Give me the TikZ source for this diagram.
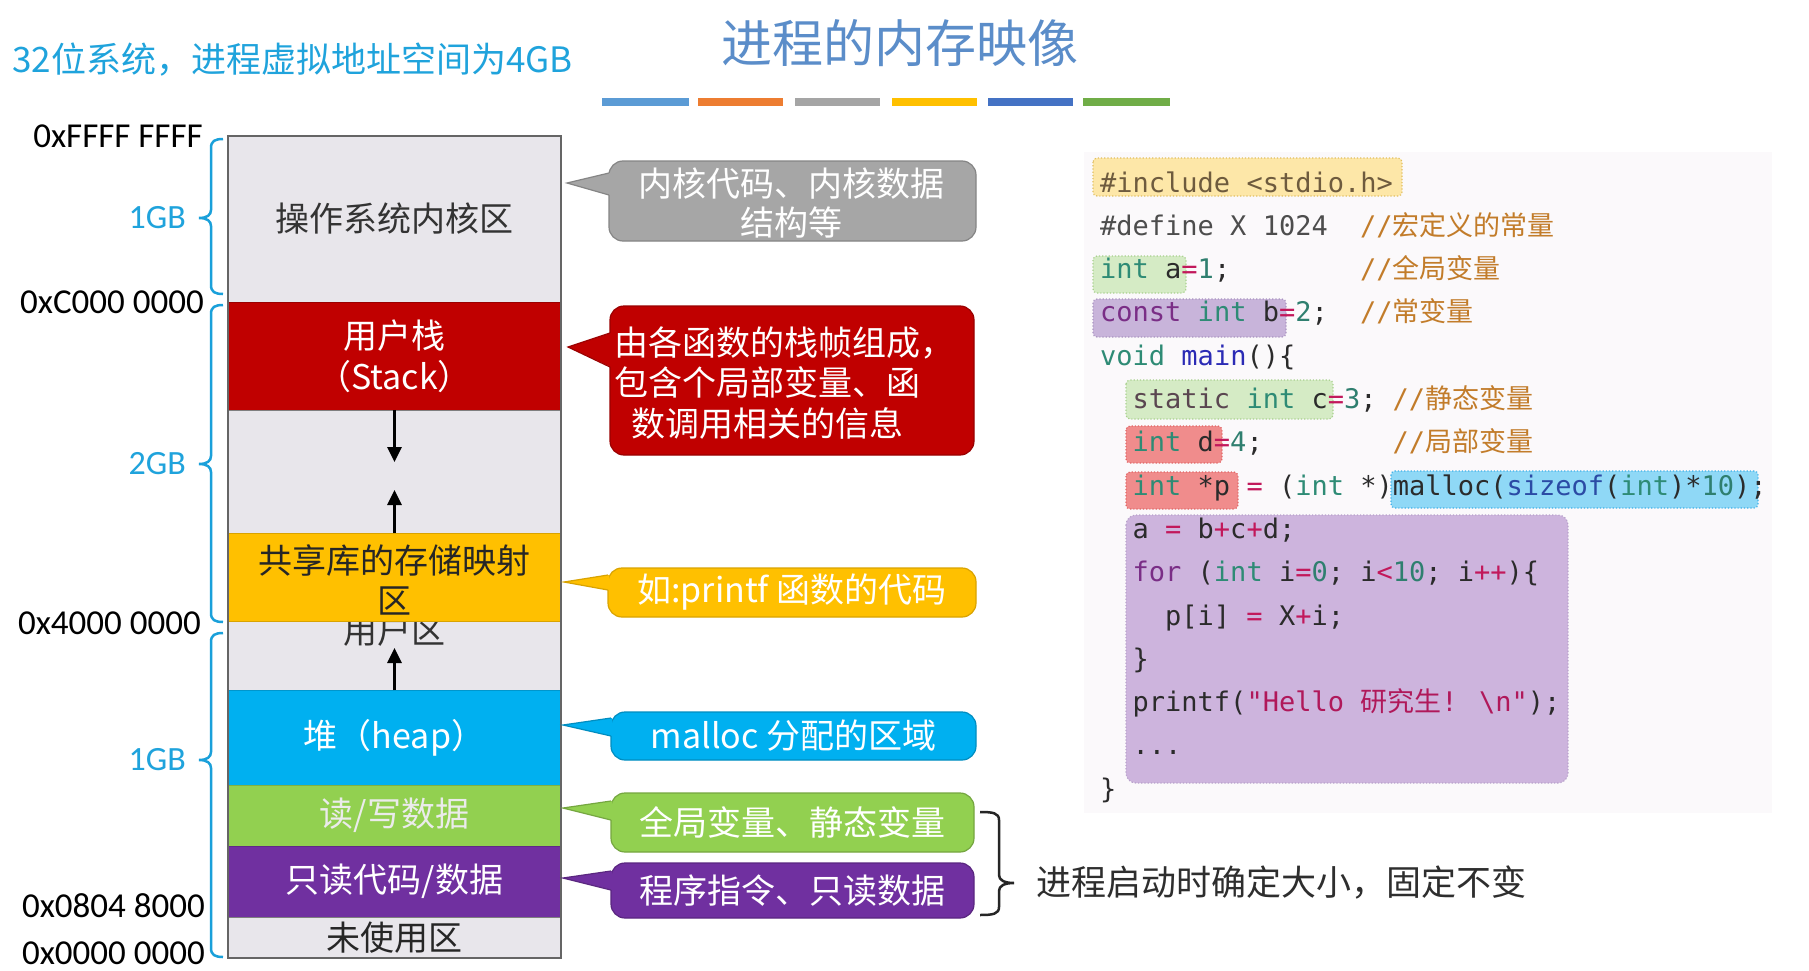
\documentclass[tikz,border=0pt]{standalone}
\usepackage{fontspec}
\setmainfont{Noto Sans CJK SC}
\newfontfamily\cjk{Noto Sans CJK SC}
\newfontfamily\mono{DejaVu Sans Mono}
\newfontfamily\calib{Carlito}
\usetikzlibrary{arrows.meta}
\newcommand\fsz[2]{\fontsize{#1}{#2}\selectfont}
% memory colours
\definecolor{memgray}{HTML}{E8E6EB}
\definecolor{memline}{HTML}{7F7F7F}
\definecolor{cRed}{HTML}{C00000}
\definecolor{cYel}{HTML}{FFC000}
\definecolor{cCyan}{HTML}{00B0F0}
\definecolor{cGreen}{HTML}{92D050}
\definecolor{cPurp}{HTML}{7030A0}
\definecolor{cGrayC}{HTML}{A6A6A6}
\definecolor{titleC}{HTML}{5B8DC9}
\definecolor{topC}{HTML}{1FA3DC}
\definecolor{braceC}{HTML}{1AA0DA}
\definecolor{barA}{HTML}{5B9BD5}
\definecolor{barB}{HTML}{ED7D31}
\definecolor{barC}{HTML}{A5A5A5}
\definecolor{barD}{HTML}{FFC000}
\definecolor{barE}{HTML}{4472C4}
\definecolor{barF}{HTML}{70AD47}
% code colours
\definecolor{codebg}{HTML}{FBF9FB}
\definecolor{hlY}{HTML}{FDE7A8}\definecolor{hlYd}{HTML}{E0BE60}
\definecolor{hlG}{HTML}{D5EBC5}\definecolor{hlGd}{HTML}{A8D08D}
\definecolor{hlP}{HTML}{C8B4DA}\definecolor{hlPd}{HTML}{A993C0}
\definecolor{hlR}{HTML}{F08C8C}\definecolor{hlRd}{HTML}{E06666}
\definecolor{hlC}{HTML}{8FD8F6}\definecolor{hlCd}{HTML}{3FB0E8}
\definecolor{blkP}{HTML}{CDB4DD}\definecolor{blkPd}{HTML}{B8A2CB}
\definecolor{cdef}{HTML}{2B2B2B}
\definecolor{ckw}{HTML}{2E8B75}
\definecolor{cpur}{HTML}{7A2E86}
\definecolor{cstat}{HTML}{5A4650}
\definecolor{cmain}{HTML}{2B2BB5}
\definecolor{csize}{HTML}{2B4BA5}
\definecolor{cop}{HTML}{C2185B}
\definecolor{cnum}{HTML}{2F7F6F}
\definecolor{cstr}{HTML}{B0185A}
\definecolor{ccom}{HTML}{C27C2A}
\definecolor{cinc}{HTML}{6E5B3E}
\definecolor{cdefn}{HTML}{4D4D4D}
\newcommand\lbr[3]{%
 \draw[cbr] (223,#1) .. controls (215,#1) and (211,{#1+2}) .. (211,{#1+9}) -- (211,{#2-8})
   .. controls (211,{#2-3}) and (207,#2) .. (199,#2)
   .. controls (207,#2) and (211,{#2+3}) .. (211,{#2+8}) -- (211,{#3-9})
   .. controls (211,{#3-2}) and (215,#3) .. (223,#3);}
\begin{document}
\begin{tikzpicture}[x=1pt,y=-1pt,
  seg/.style={inner sep=0pt,outer sep=0pt,minimum width=333pt,anchor=north west,line width=1pt,font=\fsz{34}{41},align=center},
  addr/.style={font=\calib\fsz{35}{40},text=black,anchor=east,inner sep=0pt},
  gb/.style={font=\calib\fsz{34}{40},text=topC,anchor=east,inner sep=0pt},
  cbr/.style={draw=braceC,line width=2.5pt},
  bbr/.style={draw=black!85,line width=2.5pt},
  marr/.style={line width=3pt,-{Triangle[width=14pt,length=15pt]},black},
  callout/.style={rounded corners=14pt,inner sep=0pt,outer sep=0pt,anchor=north west,line width=1.2pt,text=white,font=\fsz{34}{40},align=center},
  hl/.style={rounded corners=4pt,dotted,line width=1.2pt},
  code/.style={font=\mono\fsz{27}{27},inner sep=0pt,anchor=base west,text=cdef},
  com/.style={font=\mono\fsz{27}{27},inner sep=0pt,anchor=base west,text=ccom}]
\useasboundingbox (0,0) rectangle (1809,971);
\fill[white] (0,0) rectangle (1809,971);

% ---------- headings ----------
\node[anchor=west,inner sep=0pt,font=\fsz{35}{40},text=topC] (top) at (12,60) {32位系统，进程虚拟地址空间为4GB};
\node[inner sep=0pt,font=\fsz{51}{56},text=titleC] (title) at (900,43) {进程的内存映像};
\fill[barA] (602,98) rectangle (689,106);
\fill[barB] (698,98) rectangle (783,106);
\fill[barC] (795,98) rectangle (880,106);
\fill[barD] (892,98) rectangle (977,106);
\fill[barE] (988,98) rectangle (1073,106);
\fill[barF] (1083,98) rectangle (1170,106);

% ---------- memory column ----------
\node[seg,fill=memgray,draw=memline,minimum height=166pt,text=black!80] (kern) at (228,136) {操作系统内核区};
\node[seg,fill=cRed,draw=cRed!80!black,minimum height=108pt,text=white] (stack) at (228,302) {用户栈\\（Stack）};
\node[seg,fill=memgray,draw=memline,minimum height=123pt] (gap) at (228,410) {};
\node[seg,fill=memgray,draw=memline,minimum height=69pt] (user) at (228,621) {};
\node[inner sep=0pt,font=\fsz{34}{41},text=black!80] (usertxt) at (394.5,631) {用户区};
\node[seg,fill=cYel,draw=cYel!85!black,minimum height=88pt,text=black!85] (shlib) at (228,533) {};
\node[inner sep=0pt,font=\fsz{34}{40},align=center,text=black!85] (shtxt) at (394.5,580) {共享库的存储映射\\区};
\node[seg,fill=cCyan,draw=cCyan!85!black,minimum height=95pt,text=white] (heap) at (228,690) {堆（heap）};
\node[seg,fill=cGreen,draw=cGreen!85!black,minimum height=61pt,text=white!92!black] (rw) at (228,785) {读/写数据};
\node[seg,fill=cPurp,draw=cPurp!85!black,minimum height=71pt,text=white] (ro) at (228,846) {只读代码/数据};
\node[seg,fill=memgray,draw=memline,minimum height=41pt,text=black!85] (unused) at (228,917) {未使用区};
\draw[memline!80!black,line width=1.8pt] (kern.north west) rectangle (unused.south east);

\coordinate (ad1) at (394.5,462);
\coordinate (au1) at (394.5,490);
\coordinate (au2) at (394.5,648);
\draw[marr] (stack.south) -- (ad1);
\draw[marr] (shlib.north) -- (au1);
\draw[marr] (heap.north) -- (au2);

% ---------- addresses and braces ----------
\node[addr] (a1) at (203,136) {0xFFFF FFFF};
\node[addr] (a2) at (204,302) {0xC000 0000};
\node[addr] (a3) at (201,623) {0x4000 0000};
\node[addr] (a4) at (205,906) {0x0804 8000};
\node[addr] (a5) at (205,953) {0x0000 0000};
\lbr{139}{218}{294}
\lbr{305}{464}{622}
\lbr{633}{760}{957}
\node[gb] (g1) at (186,218) {1GB};
\node[gb] (g2) at (186,464) {2GB};
\node[gb] (g3) at (186,760) {1GB};

% ---------- callouts ----------
\node[callout,fill=cGrayC,draw=cGrayC!80!black,minimum width=367pt,minimum height=80pt] (cg) at (609,161) {};
\node[inner sep=0pt,font=\fsz{34}{39},align=center,text=white] (cgt) at (791,203) {内核代码、内核数据\\结构等};
\coordinate (tg) at (567,183);
\fill[cGrayC] (tg) -- (610,173) -- (610,195) -- cycle;
\draw[cGrayC!80!black,line width=1.2pt] (609,173) -- (tg) -- (609,195);

\node[callout,fill=cRed,draw=cRed!80!black,minimum width=364pt,minimum height=149pt] (cr) at (610,306) {};
\node[inner sep=0pt,font=\fsz{34}{40.5},align=left,text=white,anchor=west] (crt) at (614,383) {由各函数的栈帧组成，\\包含个局部变量、函\\\hspace*{17pt}数调用相关的信息};
\coordinate (tr) at (568,347);
\fill[cRed] (tr) -- (611,333) -- (611,367) -- cycle;
\draw[cRed!80!black,line width=1.2pt] (610,333) -- (tr) -- (610,367);

\node[callout,fill=cYel,draw=cYel!85!black,minimum width=368pt,minimum height=49pt] (cy) at (608,568) {如:printf 函数的代码};
\coordinate (ty) at (564,582);
\fill[cYel] (ty) -- (609,575) -- (609,590) -- cycle;
\draw[cYel!85!black,line width=1.2pt] (608,575) -- (ty) -- (608,590);

\node[callout,fill=cCyan,draw=cCyan!80!black,minimum width=365pt,minimum height=48pt] (cc) at (611,712) {malloc 分配的区域};
\coordinate (tc) at (563,725);
\fill[cCyan] (tc) -- (612,718) -- (612,736) -- cycle;
\draw[cCyan!80!black,line width=1.2pt] (611,718) -- (tc) -- (611,736);

\node[callout,fill=cGreen,draw=cGreen!80!black,minimum width=363pt,minimum height=59pt] (cgr) at (611,793) {全局变量、静态变量};
\coordinate (tgr) at (563,808);
\fill[cGreen] (tgr) -- (612,801) -- (612,820) -- cycle;
\draw[cGreen!80!black,line width=1.2pt] (611,801) -- (tgr) -- (611,820);

\node[callout,fill=cPurp,draw=cPurp!80!black,minimum width=363pt,minimum height=55pt] (cp) at (611,863) {程序指令、只读数据};
\coordinate (tp) at (563,878);
\fill[cPurp] (tp) -- (612,871) -- (612,890) -- cycle;
\draw[cPurp!80!black,line width=1.2pt] (611,871) -- (tp) -- (611,890);

% right brace and note
\draw[bbr] (980,812) .. controls (993,812) and (999,813) .. (999,820) -- (999,875)
  .. controls (999,880) and (1004,883) .. (1014,883)
  .. controls (1004,883) and (999,886) .. (999,891) -- (999,907)
  .. controls (999,914) and (993,915) .. (980,915);
\node[anchor=west,inner sep=0pt,font=\fsz{35}{40},text=black!82] (note) at (1036,883) {进程启动时确定大小，固定不变};

% ---------- code panel ----------
\fill[codebg] (1084,152) rectangle (1772,813);
\draw[hl,fill=hlY,draw=hlYd] (1093,158) rectangle (1402,196);
\draw[hl,fill=hlG,draw=hlGd] (1093,256) rectangle (1186,293);
\draw[hl,fill=hlP,draw=hlPd] (1093,299) rectangle (1286,337);
\draw[hl,fill=hlG,draw=hlGd] (1126,380) rectangle (1333,419);
\draw[hl,fill=hlR,draw=hlRd] (1126,426) rectangle (1222,463);
\draw[hl,fill=hlR,draw=hlRd] (1126,472) rectangle (1238,509);
\draw[hl,fill=hlC,draw=hlCd] (1391,471) rectangle (1758,508);
\draw[hl,fill=blkP,draw=blkPd,rounded corners=10pt] (1126,515) rectangle (1568,783);

\node[code] (L1) at (1100,192) {{\color{cinc}\#include <stdio.h>}};
\node[code] (L2) at (1100,235.3) {{\color{cdefn}\#define X }{\color{cdefn}1024}};
\node[com] (C2) at (1360,235.3) {//{\cjk 宏定义的常量}};
\node[code] (L3) at (1100,278.6) {{\color{ckw}int} a{\color{cop}=}{\color{cnum}1};};
\node[com] (C3) at (1360,278.6) {//{\cjk 全局变量}};
\node[code] (L4) at (1100,321.9) {{\color{cpur}const} {\color{ckw}int} b{\color{cop}=}{\color{cnum}2};};
\node[com] (C4) at (1360,321.9) {//{\cjk 常变量}};
\node[code] (L5) at (1100,365.2) {{\color{ckw}void} {\color{cmain}main}()\{};
\node[code] (L6) at (1132.5,408.5) {{\color{cstat}static} {\color{ckw}int} c{\color{cop}=}{\color{cnum}3};};
\node[com] (C6) at (1392.5,408.5) {//{\cjk 静态变量}};
\node[code] (L7) at (1132.5,451.8) {{\color{ckw}int} d{\color{cop}=}{\color{cnum}4};};
\node[com] (C7) at (1392.5,451.8) {//{\cjk 局部变量}};
\node[code] (L8) at (1132.5,495.1) {{\color{ckw}int} *p {\color{cop}=} ({\color{ckw}int} *)malloc({\color{csize}sizeof}({\color{ckw}int})*{\color{cnum}10});};
\node[code] (L9) at (1132.5,538.4) {a {\color{cop}=} b{\color{cop}+}c{\color{cop}+}d;};
\node[code] (L10) at (1132.5,581.7) {{\color{cpur}for} ({\color{ckw}int} i{\color{cop}=}{\color{cnum}0}; i{\color{cop}<}{\color{cnum}10}; i{\color{cop}++})\{};
\node[code] (L11) at (1165,625) {p[i] {\color{cop}=} X{\color{cop}+}i;};
\node[code] (L12) at (1132.5,668.3) {\}};
\node[code] (L13) at (1132.5,711.6) {printf({\color{cstr}"Hello {\cjk 研究生}! \textbackslash n"});};
\node[code] (L14) at (1132.5,754.9) {...};
\node[code] (L15) at (1100,798.2) {\}};
\end{tikzpicture}
\end{document}
